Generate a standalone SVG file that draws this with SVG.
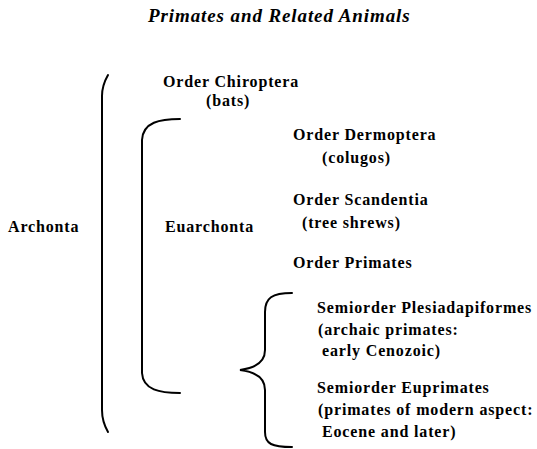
<svg xmlns="http://www.w3.org/2000/svg" width="537" height="449" viewBox="0 0 537 449">
<style>
.t{font-weight:bold;font-size:16px;letter-spacing:0.85px;fill:#000}
.title{font-style:italic;font-size:19px;letter-spacing:0.9px}
.br{fill:none;stroke:#000;stroke-width:2;stroke-linecap:round}
</style>
<rect width="537" height="449" fill="#fff"/>
<text class="t title" x="148" y="22" font-family="Liberation Serif, Times New Roman, serif">Primates and Related Animals</text>
<g id="connectors">
<path class="br" d="M108,75 C104,82 102,88 102,96 L102,410 C102,418 104,425 108,432"/>
<path class="br" d="M180,119 C160,119 143,122 142,140 L142,373 C143,390 160,393 180,393"/>
<path class="br" d="M292,293 C272,293 265,298 265,312 L265,350 C265,362 256,368 240,370 C256,372 265,378 265,390 L265,432 C265,444 272,447 292,447"/>
</g>
<g class="t" font-family="Liberation Serif, Times New Roman, serif">
<g id="archonta"><text x="8" y="232">Archonta</text></g>
<g id="euarchonta"><text x="165" y="232">Euarchonta</text></g>
<g id="chiroptera"><text x="163" y="87">Order Chiroptera</text><text x="206" y="106">(bats)</text></g>
<g id="dermoptera"><text x="293" y="140">Order Dermoptera</text><text x="322" y="163">(colugos)</text></g>
<g id="scandentia"><text x="293" y="205">Order Scandentia</text><text x="302" y="228">(tree shrews)</text></g>
<g id="primates"><text x="293" y="268">Order Primates</text></g>
<g id="plesiadapiformes"><text x="317" y="313">Semiorder Plesiadapiformes</text><text x="318" y="335">(archaic primates:</text><text x="322" y="356">early Cenozoic)</text></g>
<g id="euprimates"><text x="317" y="393">Semiorder Euprimates</text><text x="318" y="415">(primates of modern aspect:</text><text x="322" y="437">Eocene and later)</text></g>
</g>
</svg>
